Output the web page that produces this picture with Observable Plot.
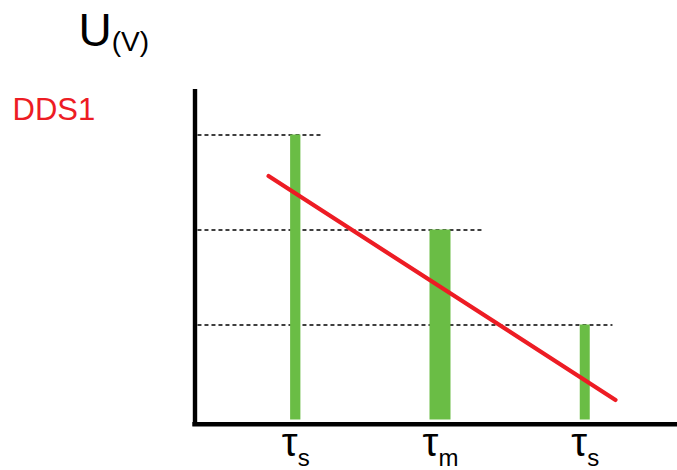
<!DOCTYPE html>
<html><head><meta charset="utf-8">
<script src="https://cdn.jsdelivr.net/npm/d3@7"></script>
<script src="https://cdn.jsdelivr.net/npm/@observablehq/plot@0.6"></script>
<style>html,body{margin:0;padding:0;background:#fff;overflow:hidden;} svg{display:block;}</style>
</head><body><div id="chart"></div>
<script>
// --- data ---
const tickMain = ["τ", "τ", "τ"];
const tickSub = ["s", "m", "s"];
const positions = [1, 2, 3];
const levels = [3, 2, 1];
const guideEnds = [1.185, 2.283, 3.188];
const trendX = [0.812, 3.209];
const trendY = [2.568, 0.211];
const yLabel = "U";
const yUnit = "(V)";
const seriesLabel = "DDS1";

// --- styles / sizes ---
const barWidths = [0.071, 0.145, 0.069];
const GREEN = "#6abd45";
const RED = "#ed1c24";
const FONT = "'Liberation Sans', Arial, Helvetica, sans-serif";
const axisX = 0.304, axisTop = 3.479, axisBottom = -0.068;
const baseY = -0.045, baseLeft = 0.289, baseRight = 3.64;
const guideStart = 0.321;

const bars = positions.map((p, i) => ({
  x: p, w: barWidths[i], y: levels[i], guideEnd: guideEnds[i],
  main: tickMain[i], sub: tickSub[i]
}));
const trend = trendX.map((x, i) => ({x, y: trendY[i]}));

const svg = Plot.plot({
  width: 677,
  height: 470,
  margin: 0,
  style: {fontFamily: FONT, background: "white", overflow: "visible"},
  x: {domain: [1, 3], range: [295.25, 584.75], axis: null},
  y: {domain: [0, 3], range: [419.5, 134.5], axis: null},
  marks: [
    Plot.link(bars, {x1: () => guideStart, x2: "guideEnd", y1: "y", y2: "y",
      stroke: "#000", strokeWidth: 1.4, strokeDasharray: "4,3"}),
    Plot.rect(bars, {x1: d => d.x - d.w / 2, x2: d => d.x + d.w / 2, y1: () => 0, y2: "y", fill: GREEN}),
    Plot.line(trend, {x: "x", y: "y", stroke: RED, strokeWidth: 4.2}),
    Plot.ruleX([axisX], {y1: axisBottom, y2: axisTop, stroke: "#000", strokeWidth: 4.4}),
    Plot.ruleY([baseY], {x1: baseLeft, x2: baseRight, stroke: "#000", strokeWidth: 4.4}),
    Plot.text(bars, {x: "x", frameAnchor: "bottom", dy: -15, lineAnchor: "bottom",
      text: "main", fontSize: 40, fill: "#000", textAnchor: "middle"}),
    Plot.text([yLabel], {frameAnchor: "top-left", dx: 78, dy: 45, lineAnchor: "bottom",
      textAnchor: "start", fontSize: 46, fill: "#000"}),
    Plot.text([seriesLabel], {frameAnchor: "top-left", dx: 12, dy: 119, lineAnchor: "bottom",
      textAnchor: "start", fontSize: 31, fill: RED})
  ]
});

// subscripts / unit as tspans (text mark groups in order: tick labels, y label, series label)
const textGroups = svg.querySelectorAll('g[aria-label="text"]');
d3.select(textGroups[0]).selectAll("text").each(function(_, i) {
  d3.select(this).append("tspan").attr("font-size", 24).attr("dy", 10).text(tickSub[i]);
});
d3.select(textGroups[1]).selectAll("text").each(function() {
  d3.select(this).append("tspan").attr("font-size", 28).attr("dy", 5.5).text(yUnit);
});

document.getElementById("chart").appendChild(svg);
</script>
</body></html>
